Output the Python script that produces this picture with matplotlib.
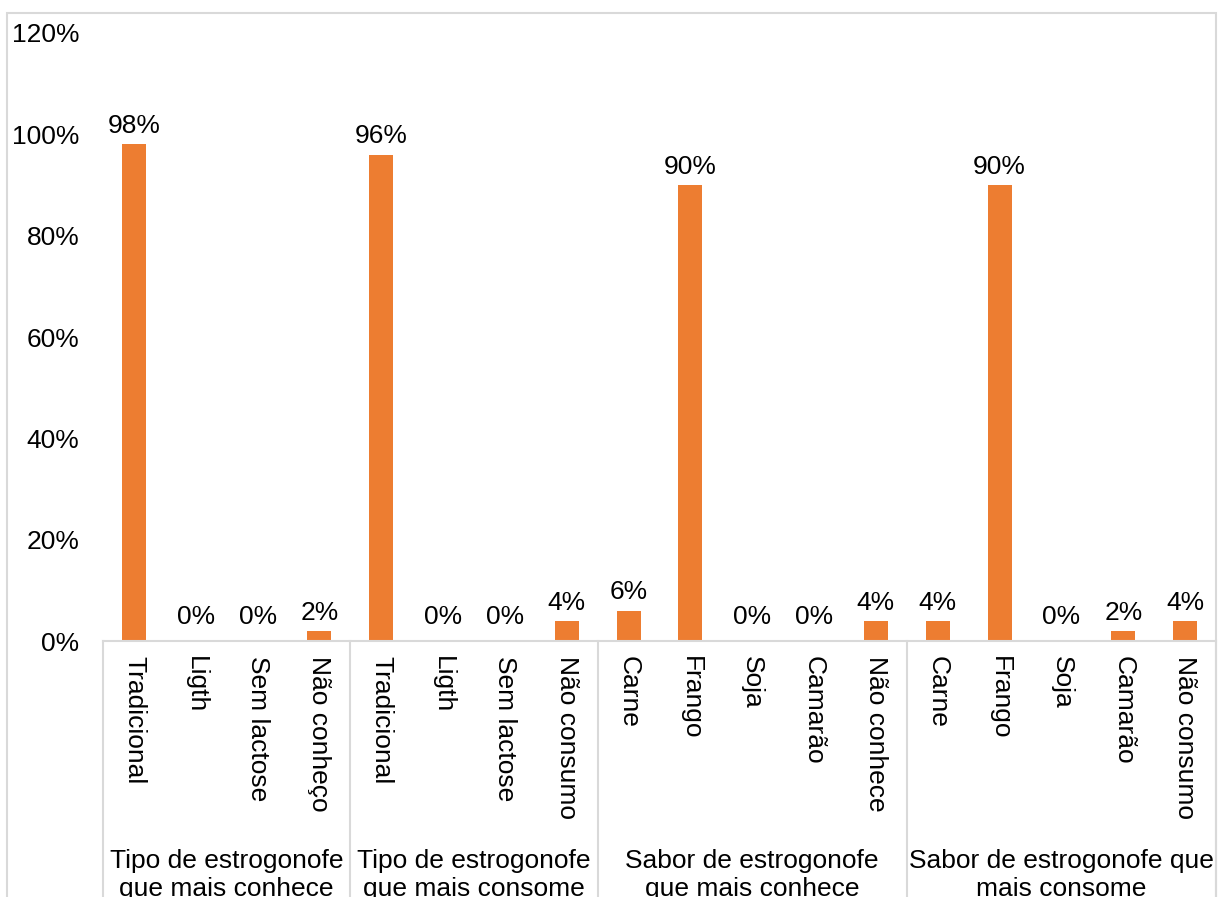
import matplotlib
matplotlib.use("Agg")
import matplotlib.pyplot as plt
from matplotlib.patches import Rectangle
from matplotlib.lines import Line2D

plt.rcParams['font.family'] = ['Liberation Sans', 'DejaVu Sans']

categories = ["Tradicional", "Ligth", "Sem lactose", "Não conheço",
              "Tradicional", "Ligth", "Sem lactose", "Não consumo",
              "Carne", "Frango", "Soja", "Camarão", "Não conhece",
              "Carne", "Frango", "Soja", "Camarão", "Não consumo"]
values = [98, 0, 0, 2,
          96, 0, 0, 4,
          6, 90, 0, 0, 4,
          4, 90, 0, 2, 4]
groups = ["Tipo de estrogonofe\nque mais conhece",
          "Tipo de estrogonofe\nque mais consome",
          "Sabor de estrogonofe\nque mais conhece",
          "Sabor de estrogonofe que\nmais consome"]
group_sizes = [4, 4, 5, 5]
yticks = [0, 20, 40, 60, 80, 100, 120]

W, H = 1219, 897
fig = plt.figure(figsize=(W / 100, H / 100), dpi=100)
ax = fig.add_axes([103 / W, (H - 641) / H, (1216 - 103) / W, (641 - 33) / H])

BAR = '#ED7D31'
GRID = '#D9D9D9'
FS = 19

x = list(range(len(values)))
ax.bar(x, values, width=0.39, color=BAR, zorder=2)
for xi, v in zip(x, values):
    off = 12 if v == 0 else 8
    ax.annotate(f"{v}%", (xi, v), xytext=(0, off), textcoords='offset points',
                ha='center', va='baseline', fontsize=FS, color='black')

ax.set_xlim(-0.5, len(values) - 0.5)
ax.set_ylim(0, 120)
ax.set_yticks(yticks)
ax.set_yticklabels([f"{t}%" for t in yticks], fontsize=FS)
ax.tick_params(axis='y', length=0, pad=17)
ax.set_xticks(x)
ax.set_xticklabels(categories, rotation=270, fontsize=FS, va='top', ha='center')
ax.tick_params(axis='x', length=0, pad=11)

for s in ['top', 'right', 'left']:
    ax.spines[s].set_visible(False)
ax.spines['bottom'].set_color(GRID)
ax.spines['bottom'].set_linewidth(1.5)

# group separators and labels
trans = ax.get_xaxis_transform()
start = -0.5
bounds = [start]
for gs in group_sizes:
    start += gs
    bounds.append(start)
for b in bounds:
    ax.add_line(Line2D([b, b], [0, -0.6], transform=trans, color=GRID,
                       lw=1.5, clip_on=False))
for i, g in enumerate(groups):
    c = (bounds[i] + bounds[i + 1]) / 2
    ax.text(c, -0.342, g, transform=trans, ha='center', va='top',
            fontsize=FS, linespacing=1.2)

# outer chart border
fig.patches.append(Rectangle((7 / W, -0.2), (1216 - 7) / W, 0.2 + (H - 13) / H,
                             transform=fig.transFigure, fill=False,
                             edgecolor=GRID, lw=1.5))

fig.savefig("out.png", dpi=100)
